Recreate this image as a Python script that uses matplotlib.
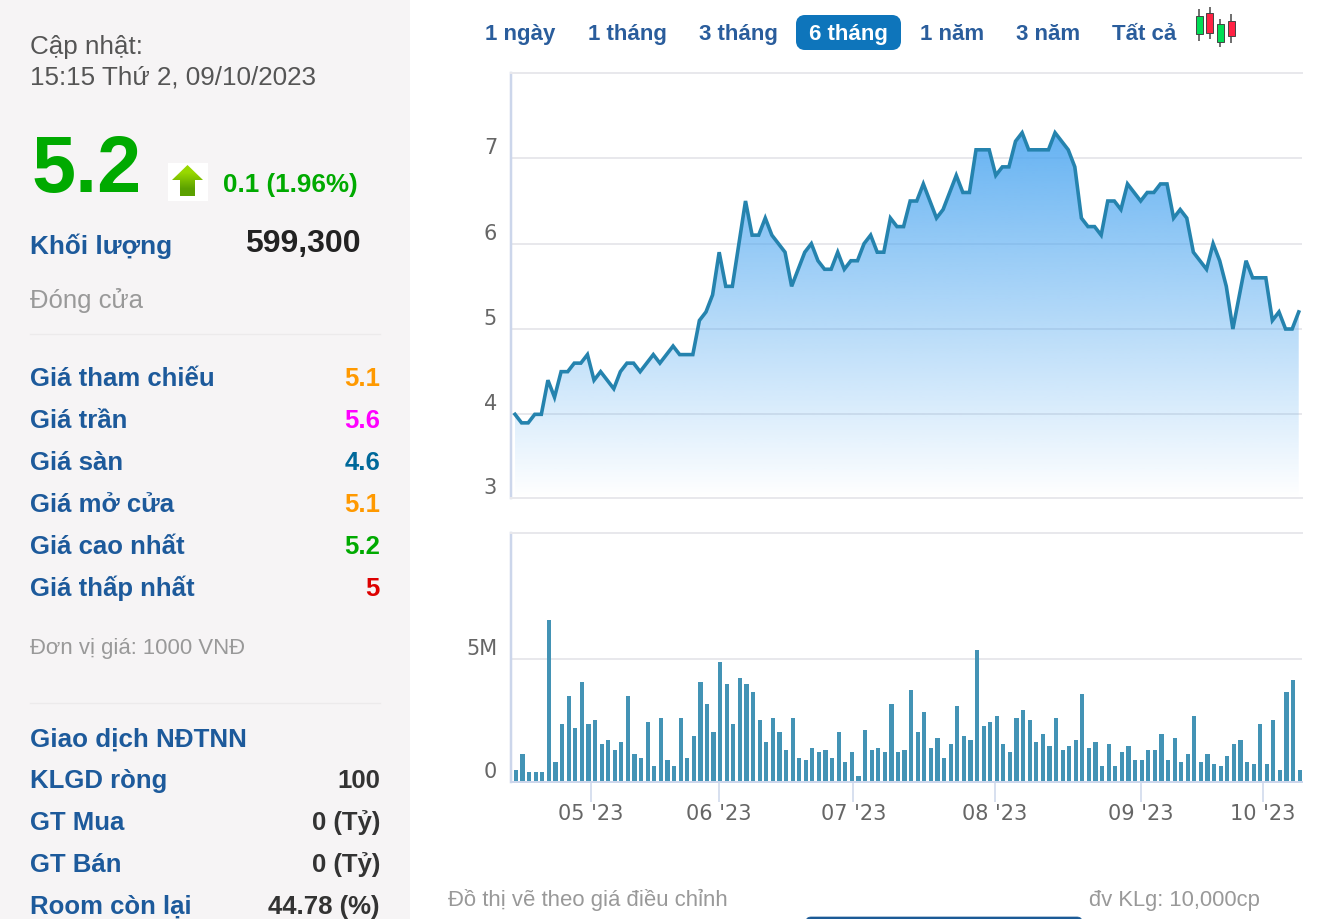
import matplotlib
matplotlib.use('Agg')
import matplotlib.pyplot as plt
import numpy as np
from matplotlib.patches import FancyBboxPatch, Polygon, Rectangle
from matplotlib.transforms import ScaledTranslation

plt.rcParams['font.family'] = ['Liberation Sans', 'DejaVu Sans']

# gia dong cua (1000 VND), 6 thang
price = [4.0, 3.9, 3.9, 4.0, 4.0, 4.4, 4.2, 4.5, 4.5, 4.6, 4.6, 4.7, 4.4, 4.5, 4.4, 4.3, 4.5, 4.6, 4.6, 4.5,
         4.6, 4.7, 4.6, 4.7, 4.8, 4.7, 4.7, 4.7, 5.1, 5.2, 5.4, 5.9, 5.5, 5.5, 6.0, 6.5, 6.1, 6.1, 6.3, 6.1,
         6.0, 5.9, 5.5, 5.7, 5.9, 6.0, 5.8, 5.7, 5.7, 5.9, 5.7, 5.8, 5.8, 6.0, 6.1, 5.9, 5.9, 6.3, 6.2, 6.2,
         6.5, 6.5, 6.7, 6.5, 6.3, 6.4, 6.6, 6.8, 6.6, 6.6, 7.1, 7.1, 7.1, 6.8, 6.9, 6.9, 7.2, 7.3, 7.1, 7.1,
         7.1, 7.1, 7.3, 7.2, 7.1, 6.9, 6.3, 6.2, 6.2, 6.1, 6.5, 6.5, 6.4, 6.7, 6.6, 6.5, 6.6, 6.6, 6.7, 6.7,
         6.3, 6.4, 6.3, 5.9, 5.8, 5.7, 6.0, 5.8, 5.5, 5.0, 5.4, 5.8, 5.6, 5.6, 5.6, 5.1, 5.2, 5.0, 5.0, 5.2]

# khoi luong (trieu cp)
volume = [0.49, 1.13, 0.40, 0.40, 0.40, 6.57, 0.81, 2.35, 3.49, 2.19, 4.05, 2.35, 2.51, 1.54, 1.70, 1.30, 1.62,
          3.49, 1.13, 0.97, 2.43, 0.65, 2.59, 0.89, 0.65, 2.59, 0.97, 1.86, 4.05, 3.16, 2.03, 4.86, 3.97, 2.35,
          4.22, 3.97, 3.65, 2.51, 1.62, 2.59, 2.03, 1.30, 2.59, 0.97, 0.89, 1.38, 1.22, 1.30, 0.97, 2.03, 0.81,
          1.22, 0.24, 2.11, 1.30, 1.38, 1.22, 3.16, 1.22, 1.30, 3.73, 2.03, 2.84, 1.38, 1.78, 0.97, 1.54, 3.08,
          1.86, 1.70, 5.35, 2.27, 2.43, 2.68, 1.54, 1.22, 2.59, 2.92, 2.51, 1.62, 1.95, 1.46, 2.59, 1.30, 1.46,
          1.70, 3.57, 1.38, 1.62, 0.65, 1.54, 0.65, 1.22, 1.46, 0.89, 0.89, 1.30, 1.30, 1.95, 0.89, 1.78, 0.81,
          1.13, 2.68, 0.81, 1.13, 0.73, 0.65, 1.05, 1.54, 1.70, 0.81, 0.73, 2.35, 0.73, 2.51, 0.49, 3.65, 4.14,
          0.49]
assert len(price) == len(volume)

month_pos = [11.34, 30.8, 51.2, 72.7, 94.85, 113.4]
month_labels = ["05 '23", "06 '23", "07 '23", "08 '23", "09 '23", "10 '23"]
price_ticks = [3.016, 4, 5, 6, 7, 8]
price_labels = ['3', '4', '5', '6', '7', '']
vol_ticks = [0, 5, 10.1]
vol_labels = ['0', '5M', '']

buttons = ['1 ngày', '1 tháng', '3 tháng', '6 tháng', '1 năm', '3 năm', 'Tất cả']
button_x = [520, 627, 738, 848, 952, 1048, 1144]

price_rows = ['Giá tham chiếu', 'Giá trần', 'Giá sàn', 'Giá mở cửa', 'Giá cao nhất', 'Giá thấp nhất']
price_vals = ['5.1', '5.6', '4.6', '5.1', '5.2', '5']
price_colors = ['#ff9900', '#ff00ff', '#00699a', '#ff9900', '#00aa00', '#dd0000']

foreign_rows = ['KLGD ròng', 'GT Mua', 'GT Bán', 'Room còn lại']
foreign_vals = ['100', '0 (Tỷ)', '0 (Tỷ)', '44.78 (%)']

BLUE = '#1d5a9b'
GRID = '#e8e8ec'
AXIS = '#ccd6eb'
W, H = 1320, 920


def pt(px):
    return px * 0.72


def axes_px(left, top, right, bottom):
    return fig.add_axes([left / W, 1 - bottom / H, (right - left) / W, (bottom - top) / H])


def shift_labels(ax, up):
    offset = ScaledTranslation(0, up / 100, fig.dpi_scale_trans)
    for lab in ax.get_yticklabels():
        lab.set_transform(lab.get_transform() + offset)


fig = plt.figure(figsize=(W / 100, H / 100), dpi=100, facecolor='white')

# nen va chu, toa do pixel
bg = fig.add_axes([0, 0, 1, 1])
bg.set_xlim(0, W)
bg.set_ylim(H, 0)
bg.axis('off')
bg.add_patch(Rectangle((0, 0), 410, H, color='#f6f4f5', lw=0))
bg.plot([30, 380], [335, 335], color='#eceaeb', lw=1)
bg.plot([30, 380], [704, 704], color='#eceaeb', lw=1)

bg.text(30, 54, 'Cập nhật:', fontsize=18.7, color='#555555')
bg.text(30, 84, '15:15 Thứ 2, 09/10/2023', fontsize=18.7, color='#555555')
bg.text(32, 192, '5.2', fontsize=57, fontweight='bold', color='#00aa00')
bg.text(223, 192, '0.1 (1.96%)', fontsize=18.7, fontweight='bold', color='#00aa00')
bg.text(30, 254, 'Khối lượng', fontsize=18.8, fontweight='bold', color=BLUE)
bg.text(361, 252, '599,300', fontsize=23, fontweight='bold', color='#222222', ha='right')
bg.text(30, 308, 'Đóng cửa', fontsize=18.5, color='#999999')

for i in range(len(price_rows)):
    y = 386 + 42 * i
    bg.text(30, y, price_rows[i], fontsize=18.5, fontweight='bold', color=BLUE)
    bg.text(380, y, price_vals[i], fontsize=18.5, fontweight='bold', color=price_colors[i], ha='right')

bg.text(30, 654, 'Đơn vị giá: 1000 VNĐ', fontsize=15.9, color='#999999')
bg.text(30, 747, 'Giao dịch NĐTNN', fontsize=18.7, fontweight='bold', color=BLUE)
for i in range(len(foreign_rows)):
    y = 788 + 42 * i
    bg.text(30, y, foreign_rows[i], fontsize=18.5, fontweight='bold', color=BLUE)
    bg.text(380, y, foreign_vals[i], fontsize=18.5, fontweight='bold', color='#333333', ha='right')

# mui ten tang
bg.add_patch(Rectangle((168, 164), 40, 38, color='white', lw=0))
arrow = Polygon([(187.5, 166), (203, 181), (195, 181), (195, 197), (180, 197), (180, 181), (172, 181)],
                closed=True, fc='none', ec='none')
bg.add_patch(arrow)
green = np.array([[0.60, 0.85, 0.0], [0.36, 0.63, 0.0]])
im = bg.imshow(green[:, None, :], extent=(170, 205, 198, 165), aspect='auto', interpolation='bilinear', zorder=3)
im.set_clip_path(arrow)

# nut chon thoi gian
bg.add_patch(FancyBboxPatch((800, 20), 97, 27, boxstyle='round,pad=0,rounding_size=5', mutation_aspect=1,
                            fc='#0e75bb', ec='#0e75bb', lw=pt(8) / 1))
for name, x in zip(buttons, button_x):
    bg.text(x, 40, name, fontsize=16, fontweight='bold', ha='center',
            color='white' if name == '6 tháng' else '#2a5d9c')

# bieu tuong nen
candles = [(1199, 17, 35, 10, 42, '#00dd55'), (1209.7, 14, 33.5, 8, 40, '#ff2244'),
           (1220.3, 25, 42.5, 20, 48, '#00dd55'), (1231, 22, 37, 15, 44, '#ff2244')]
for cx, body_top, body_bot, wick_top, wick_bot, col in candles:
    bg.plot([cx, cx], [wick_top, wick_bot], color='#555555', lw=1.2, solid_capstyle='butt')
    bg.add_patch(Rectangle((cx - 3.5, body_top), 7, body_bot - body_top, fc=col, ec='#444444', lw=0.7, zorder=3))

bg.text(448, 906, 'Đồ thị vẽ theo giá điều chỉnh', fontsize=15.9, color='#999999')
bg.text(1089, 906, 'đv KLg: 10,000cp', fontsize=15.8, color='#999999')
bg.add_patch(FancyBboxPatch((806, 918), 276, 8, boxstyle='round,pad=0,rounding_size=5', fc='#1b5a96', ec='#1b5a96',
                            lw=0.5))

# gia
x = np.arange(len(price))
ax = axes_px(511, 74, 1302, 499.3)
ax.patch.set_alpha(0)
y_min, y_max = price_ticks[0], price_ticks[-1]
px_step = 6.586
xlim1 = (-4 / px_step, 787 / px_step)

rgba = np.zeros((256, 1, 4))
rgba[:, 0, :3] = np.array([74, 165, 240]) / 255
rgba[:, 0, 3] = np.linspace(0.85, 0, 256)
area = ax.fill_between(x, price, y_min, facecolor='none', edgecolor='none')
grad = ax.imshow(rgba, extent=(x[0], x[-1], y_min, max(price)), aspect='auto', zorder=2, interpolation='bilinear')
grad.set_clip_path(area.get_paths()[0], transform=ax.transData)
ax.plot(x, price, color='#2583ae', lw=pt(3.6), zorder=3, solid_joinstyle='miter')

ax.set_xlim(xlim1)
ax.set_ylim(y_min, y_max)
ax.set_xticks([])
ax.set_yticks(price_ticks, price_labels)
ax.grid(axis='y', color=GRID, lw=pt(2))
ax.set_axisbelow(True)
ax.tick_params(axis='y', length=0, pad=pt(14), labelsize=15, labelcolor='#666666')
for lab in ax.get_yticklabels():
    lab.set_fontfamily('DejaVu Sans')
shift_labels(ax, 13)

# khoi luong
ax2 = axes_px(511, 534, 1302, 783)
ax2.patch.set_alpha(0)
ax2.bar(x, volume, width=4.2 / px_step, color='#4393b5', zorder=2)
ax2.set_xlim(-5 / px_step, 786 / px_step)
ax2.set_ylim(0, vol_ticks[-1])
ax2.set_yticks(vol_ticks, vol_labels)
ax2.set_xticks(month_pos, month_labels)
ax2.grid(axis='y', color=GRID, lw=pt(2))
ax2.set_axisbelow(True)
ax2.tick_params(axis='y', length=0, pad=pt(14), labelsize=15, labelcolor='#666666')
ax2.tick_params(axis='x', length=pt(20), width=pt(1.5), color=AXIS, pad=pt(1), labelsize=15, labelcolor='#666666')
for lab in ax2.get_yticklabels() + ax2.get_xticklabels():
    lab.set_fontfamily('DejaVu Sans')
shift_labels(ax2, 13)

for a in (ax, ax2):
    a.spines['right'].set_visible(False)
    a.spines['left'].set_color(AXIS)
    a.spines['left'].set_linewidth(pt(2.5))
    a.spines['top'].set_color(GRID)
    a.spines['top'].set_linewidth(pt(2))
    a.spines['bottom'].set_color(GRID)
    a.spines['bottom'].set_linewidth(pt(2))
ax2.spines['bottom'].set_color(AXIS)

fig.savefig('out.png', dpi=100)
